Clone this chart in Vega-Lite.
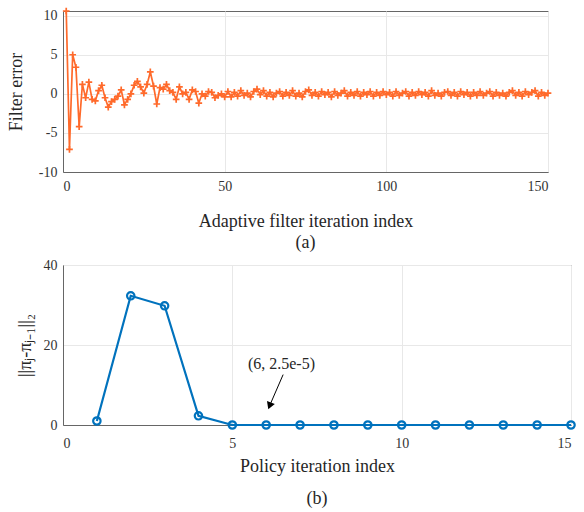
{
  "$schema": "https://vega.github.io/schema/vega-lite/v6.json",
  "background": "white",
  "padding": {"left": 6, "top": 3, "right": 5, "bottom": 5},
  "spacing": 4,
  "config": {
    "font": "Liberation Serif",
    "view": {"stroke": "#666666", "strokeWidth": 1},
    "axis": {
      "labelFont": "Liberation Serif",
      "titleFont": "Liberation Serif",
      "labelFontSize": 14,
      "titleFontSize": 18,
      "titleFontWeight": "normal",
      "labelColor": "#333333",
      "titleColor": "#262626",
      "gridColor": "#e8e8e8",
      "domainColor": "#666666",
      "ticks": false,
      "labelPadding": 6,
      "labelExpr": "replace(datum.label, '−', '-')"
    },
    "title": {"font": "Liberation Serif", "fontSize": 18, "fontWeight": "normal", "color": "#262626"}
  },
  "vconcat": [
    {
      "width": 485,
      "height": 161,
      "title": {"text": "(a)", "orient": "bottom", "offset": 4},
      "data": {"values": [
        {"i":1,"e":10.6},{"i":2,"e":-7.1},{"i":3,"e":5.0},{"i":4,"e":3.4},{"i":5,"e":-4.2},
        {"i":6,"e":1.2},{"i":7,"e":-0.5},{"i":8,"e":1.5},{"i":9,"e":-0.7},{"i":10,"e":-0.9},
        {"i":11,"e":0.4},{"i":12,"e":1.1},{"i":13,"e":-0.5},{"i":14,"e":-1.7},{"i":15,"e":-1.0},
        {"i":16,"e":-0.7},{"i":17,"e":-0.3},{"i":18,"e":0.5},{"i":19,"e":-1.4},{"i":20,"e":-0.7},
        {"i":21,"e":0.0},{"i":22,"e":1.1},{"i":23,"e":1.6},{"i":24,"e":0.9},{"i":25,"e":0.1},
        {"i":26,"e":1.2},{"i":27,"e":2.8},{"i":28,"e":1.0},{"i":29,"e":-1.3},{"i":30,"e":0.8},
        {"i":31,"e":0.6},{"i":32,"e":1.2},{"i":33,"e":0.4},{"i":34,"e":0.2},{"i":35,"e":-0.7},
        {"i":36,"e":0.9},{"i":37,"e":0.0},{"i":38,"e":0.2},{"i":39,"e":-0.7},{"i":40,"e":0.5},
        {"i":41,"e":0.3},{"i":42,"e":-1.2},{"i":43,"e":0.0},{"i":44,"e":-0.3},{"i":45,"e":0.3},
        {"i":46,"e":0.2},{"i":47,"e":-0.5},{"i":48,"e":-0.2},{"i":49,"e":0.0},{"i":50,"e":-0.4},
        {"i":51,"e":0.3},{"i":52,"e":-0.4},{"i":53,"e":0.2},{"i":54,"e":-0.3},{"i":55,"e":0.4},
        {"i":56,"e":-0.2},{"i":57,"e":0.1},{"i":58,"e":-0.4},{"i":59,"e":0.3},{"i":60,"e":0.6},
        {"i":61,"e":-0.1},{"i":62,"e":0.4},{"i":63,"e":-0.3},{"i":64,"e":0.2},{"i":65,"e":-0.4},
        {"i":66,"e":0.1},{"i":67,"e":0.3},{"i":68,"e":-0.3},{"i":69,"e":0.2},{"i":70,"e":-0.2},
        {"i":71,"e":0.4},{"i":72,"e":-0.3},{"i":73,"e":0.1},{"i":74,"e":-0.4},{"i":75,"e":0.3},
        {"i":76,"e":0.5},{"i":77,"e":-0.2},{"i":78,"e":0.2},{"i":79,"e":-0.3},{"i":80,"e":0.3},
        {"i":81,"e":-0.1},{"i":82,"e":0.2},{"i":83,"e":-0.4},{"i":84,"e":0.3},{"i":85,"e":-0.2},
        {"i":86,"e":0.1},{"i":87,"e":0.4},{"i":88,"e":-0.3},{"i":89,"e":0.2},{"i":90,"e":-0.2},
        {"i":91,"e":0.3},{"i":92,"e":-0.3},{"i":93,"e":0.2},{"i":94,"e":-0.1},{"i":95,"e":0.3},
        {"i":96,"e":-0.3},{"i":97,"e":0.2},{"i":98,"e":-0.2},{"i":99,"e":0.3},{"i":100,"e":-0.1},
        {"i":101,"e":0.2},{"i":102,"e":-0.3},{"i":103,"e":0.3},{"i":104,"e":-0.2},{"i":105,"e":0.1},
        {"i":106,"e":0.3},{"i":107,"e":-0.3},{"i":108,"e":0.2},{"i":109,"e":-0.2},{"i":110,"e":0.3},
        {"i":111,"e":-0.1},{"i":112,"e":0.2},{"i":113,"e":-0.3},{"i":114,"e":0.4},{"i":115,"e":-0.2},
        {"i":116,"e":0.1},{"i":117,"e":-0.3},{"i":118,"e":0.2},{"i":119,"e":0.3},{"i":120,"e":-0.2},
        {"i":121,"e":0.2},{"i":122,"e":-0.3},{"i":123,"e":0.3},{"i":124,"e":-0.1},{"i":125,"e":0.2},
        {"i":126,"e":-0.3},{"i":127,"e":0.2},{"i":128,"e":-0.2},{"i":129,"e":0.3},{"i":130,"e":-0.2},
        {"i":131,"e":0.1},{"i":132,"e":0.3},{"i":133,"e":-0.3},{"i":134,"e":0.2},{"i":135,"e":-0.2},
        {"i":136,"e":0.1},{"i":137,"e":-0.3},{"i":138,"e":0.2},{"i":139,"e":0.4},{"i":140,"e":-0.2},
        {"i":141,"e":0.2},{"i":142,"e":-0.3},{"i":143,"e":0.3},{"i":144,"e":-0.1},{"i":145,"e":0.2},
        {"i":146,"e":0.4},{"i":147,"e":-0.3},{"i":148,"e":0.2},{"i":149,"e":-0.2},{"i":150,"e":0.1}
      ]},
      "encoding": {
        "x": {"field": "i", "type": "quantitative", "scale": {"domain": [0, 150], "nice": false},
              "axis": {"values": [0, 50, 100, 150], "title": "Adaptive filter iteration index", "labelPadding": 7, "titlePadding": 19}},
        "y": {"field": "e", "type": "quantitative", "scale": {"domain": [-10, 10.6], "nice": false, "zero": false},
              "axis": {"values": [-10, -5, 0, 5, 10], "title": "Filter error", "titlePadding": 13}}
      },
      "layer": [
        {"mark": {"type": "line", "color": "#FF6A2B", "strokeWidth": 1.7}},
        {"mark": {"type": "point", "shape": "M-1,0L1,0M0,-1L0,1", "filled": false, "color": "#FF6A2B", "strokeWidth": 1.7, "size": 45, "opacity": 1}}
      ]
    },
    {
      "width": 508,
      "height": 160,
      "title": {"text": "(b)", "orient": "bottom", "offset": 15},
      "layer": [
        {
          "data": {"values": [
            {"j":1,"d":1.0},{"j":2,"d":32.3},{"j":3,"d":29.8},{"j":4,"d":2.3},{"j":5,"d":0.0},
            {"j":6,"d":0.000025},{"j":7,"d":0.0},{"j":8,"d":0.0},{"j":9,"d":0.0},{"j":10,"d":0.0},
            {"j":11,"d":0.0},{"j":12,"d":0.0},{"j":13,"d":0.0},{"j":14,"d":0.0},{"j":15,"d":0.0}
          ]},
          "encoding": {
            "x": {"field": "j", "type": "quantitative", "scale": {"domain": [0, 15], "nice": false},
                  "axis": {"values": [0, 5, 10, 15], "title": "Policy iteration index", "labelPadding": 11, "titlePadding": 7}},
            "y": {"field": "d", "type": "quantitative", "scale": {"domain": [0, 40], "nice": false},
                  "axis": {"values": [0, 10, 20, 30, 40], "title": "||πⱼ-πⱼ₋₁||₂", "titlePadding": 9}}
          },
          "layer": [
            {"mark": {"type": "line", "color": "#0072BD", "strokeWidth": 2.2}},
            {"mark": {"type": "point", "shape": "circle", "filled": false, "color": "#0072BD", "strokeWidth": 2.2, "size": 55, "opacity": 1}}
          ]
        },
        {
          "data": {"values": [{"ax": 6.5, "ay": 12.6, "bx": 6.1, "by": 4.8, "label": "(6, 2.5e-5)", "tx": 6.45, "ty": 15.3}]},
          "layer": [
            {"mark": {"type": "rule", "color": "black", "strokeWidth": 1},
             "encoding": {"x": {"field": "ax", "type": "quantitative"}, "y": {"field": "ay", "type": "quantitative"},
                          "x2": {"field": "bx"}, "y2": {"field": "by"}}},
            {"mark": {"type": "point", "shape": "triangle-down", "filled": true, "color": "black", "size": 70, "angle": 21, "opacity": 1},
             "encoding": {"x": {"field": "bx", "type": "quantitative"}, "y": {"field": "by", "type": "quantitative"}}},
            {"mark": {"type": "text", "fontSize": 16, "font": "Liberation Serif", "color": "#262626", "align": "center", "baseline": "middle"},
             "encoding": {"x": {"field": "tx", "type": "quantitative"}, "y": {"field": "ty", "type": "quantitative"}, "text": {"field": "label"}}}
          ]
        }
      ]
    }
  ]
}
